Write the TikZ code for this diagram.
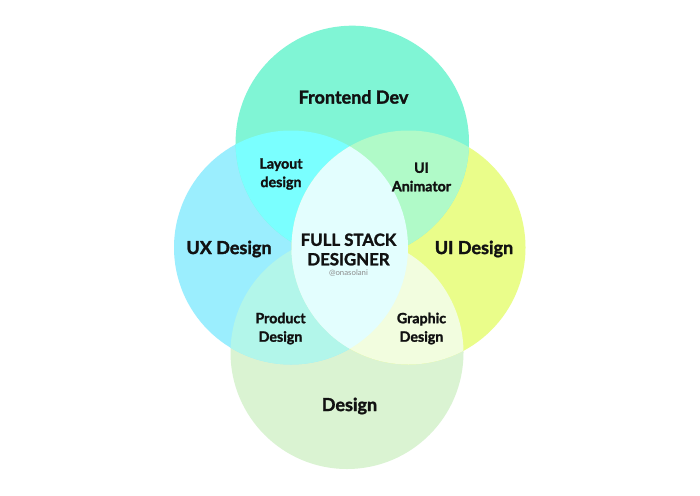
\documentclass[tikz,border=0pt]{standalone}
\usepackage{fontspec}
\setmainfont{Lato}[BoldFeatures={FakeBold=1.6}]
\definecolor{cTop}{HTML}{80F5D5}
\definecolor{cLeft}{HTML}{9BEEFE}
\definecolor{cRight}{HTML}{EAFD8A}
\definecolor{cBot}{HTML}{DAF3D2}
\definecolor{cTL}{HTML}{7AFFFF}
\definecolor{cTR}{HTML}{B0FAC8}
\definecolor{cLR}{HTML}{E3FEFE}
\definecolor{cLB}{HTML}{B2F6EA}
\definecolor{cRB}{HTML}{F2FDDF}
\definecolor{ink}{HTML}{111111}
\begin{document}
\begin{tikzpicture}[x=1pt,y=-1pt,
  big/.style={text=ink,font=\bfseries\fontsize{18}{20}\selectfont},
  sub/.style={text=ink,font=\bfseries\fontsize{14.2}{18.5}\selectfont,align=center},
  core/.style={text=ink,font=\bfseries\fontsize{16.8}{19.5}\selectfont,align=center},
  tag/.style={text=black!45,font=\fontsize{7.8}{8}\selectfont}]
\useasboundingbox (0,0) rectangle (700,495);
\fill[white] (0,0) rectangle (700,495);
\coordinate (cT) at (352.3,142.4);
\coordinate (cL) at (291,247.5);
\coordinate (cR) at (408.5,247.5);
\coordinate (cB) at (347,352.5);
\def\rT{116.7}\def\rL{117}\def\rR{117}\def\rB{116.5}
% base circles
\fill[cBot] (cB) circle[radius=\rB];
\fill[cLeft] (cL) circle[radius=\rL];
\fill[cRight] (cR) circle[radius=\rR];
\fill[cTop] (cT) circle[radius=\rT];
% pairwise overlaps
\begin{scope}\clip (cT) circle[radius=\rT]; \fill[cTL] (cL) circle[radius=\rL]; \end{scope}
\begin{scope}\clip (cT) circle[radius=\rT]; \fill[cTR] (cR) circle[radius=\rR]; \end{scope}
\begin{scope}\clip (cB) circle[radius=\rB]; \fill[cLB] (cL) circle[radius=\rL]; \end{scope}
\begin{scope}\clip (cB) circle[radius=\rB]; \fill[cRB] (cR) circle[radius=\rR]; \end{scope}
\begin{scope}\clip (cL) circle[radius=\rL]; \fill[cLR] (cR) circle[radius=\rR]; \end{scope}
% labels
\node[big] (front) at (353.5,97) {Frontend Dev};
\node[big] (ux) at (229,249) {UX Design};
\node[big] (ui) at (474,249) {UI Design};
\node[big] (design) at (349.5,406) {Design};
\node[sub] (layout) at (281,174) {Layout\\design};
\node[sub] (anim) at (421.5,177) {UI\\Animator};
\node[sub] (product) at (280.5,328.5) {Product\\Design};
\node[sub] (graphic) at (421.5,328.5) {Graphic\\Design};
\node[core] (full) at (348.5,249.5) {FULL STACK\\DESIGNER};
\node[tag] (handle) at (348.5,273.3) {@onasolani};
\end{tikzpicture}
\end{document}
